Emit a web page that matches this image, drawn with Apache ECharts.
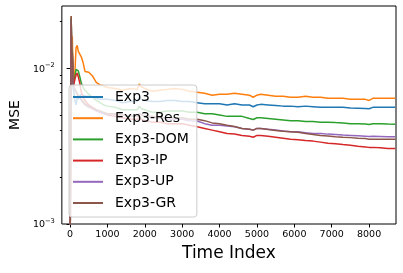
<!DOCTYPE html>
<html><head><meta charset="utf-8">
<script src="https://cdn.jsdelivr.net/npm/echarts@6/dist/echarts.min.js"></script>
<style>html,body{margin:0;padding:0;background:#fff}#c{width:403px;height:273px}</style>
</head><body><div id="c"></div>
<script>
const timeIndex = [0,15,30,45,60,80,100,130,160,190,220,260,300,350,400,450,500,600,700,800,900,1000,1200,1400,1600,1800,1850,1900,2000,2200,2400,2600,2800,3000,3200,3400,3600,3800,4000,4200,4400,4600,4800,4900,5000,5100,5300,5500,5700,5900,6100,6300,6500,6700,6900,7100,7300,7500,7700,7900,8000,8100,8300,8500,8700];
const seriesNames = ['Exp3','Exp3-Res','Exp3-DOM','Exp3-IP','Exp3-UP','Exp3-GR'];
const exp3 = [0.0004,0.0045,0.021,0.011,0.012,0.0075,0.007,0.0062,0.0058,0.0065,
0.0063,0.0066,0.0068,0.0067,0.0066,0.0066,0.0066,0.0065,0.0064,0.0063,
0.0063,0.0063,0.0062,0.0060,0.0061,0.0061,0.0065,0.0063,0.0062,0.0061,
0.0061,0.0062,0.0062,0.0061,0.0061,0.0060,0.0059,0.0059,0.0059,0.0058,
0.0059,0.0058,0.0058,0.00565,0.0058,0.00585,0.0058,0.00575,0.0057,0.0057,
0.00565,0.0057,0.00565,0.0056,0.0056,0.0056,0.0056,0.00555,0.00553,0.0055,
0.00548,0.0056,0.0056,0.0056,0.0056];
const exp3Res = [0.0004,0.0045,0.0215,0.012,0.016,0.009,0.0085,0.0095,0.0135,0.0140,
0.0128,0.0126,0.0118,0.0108,0.0095,0.0093,0.0094,0.0089,0.0081,0.0078,
0.0077,0.0075,0.0074,0.0072,0.0074,0.0073,0.0079,0.0076,0.0074,0.0071,
0.0072,0.0073,0.0074,0.0073,0.0071,0.0070,0.0069,0.0067,0.0068,0.0068,
0.0069,0.0068,0.0067,0.0065,0.0067,0.0068,0.0067,0.0066,0.0066,0.0065,
0.0065,0.0066,0.0065,0.0065,0.0064,0.0064,0.0064,0.0063,0.0063,0.0063,
0.0062,0.0064,0.0064,0.0064,0.0064];
const exp3Dom = [0.0004,0.0045,0.021,0.0115,0.013,0.0085,0.0082,0.0088,0.0098,0.0100,
0.0096,0.0088,0.0080,0.0075,0.0072,0.0070,0.0068,0.0065,0.0062,0.0060,
0.0058,0.0057,0.0056,0.0054,0.0054,0.0054,0.0057,0.0055,0.0054,0.0052,
0.0052,0.0053,0.0053,0.0053,0.0052,0.0052,0.0051,0.0051,0.0050,0.0049,
0.0049,0.0049,0.00475,0.00468,0.0048,0.0048,0.00475,0.0047,0.00465,0.0046,
0.0046,0.00455,0.00455,0.0045,0.0045,0.00447,0.00445,0.0044,0.0044,0.00437,
0.00435,0.0044,0.0044,0.00437,0.00436];
const exp3Ip = [0.0004,0.0043,0.019,0.010,0.0125,0.0082,0.0078,0.0085,0.0090,0.0093,
0.0088,0.0080,0.0070,0.0065,0.0062,0.0060,0.0058,0.0056,0.0054,0.0052,
0.0051,0.0050,0.0049,0.0048,0.0047,0.0047,0.0049,0.0047,0.0046,0.0045,
0.0045,0.0044,0.0044,0.0044,0.0043,0.0042,0.0041,0.0040,0.0039,0.0038,
0.00378,0.0037,0.00365,0.0036,0.0037,0.0037,0.00365,0.0036,0.00355,0.0035,
0.00347,0.00343,0.0034,0.00335,0.0033,0.00327,0.00323,0.0032,0.00315,0.00312,
0.0031,0.0031,0.00308,0.00305,0.00305];
const exp3Up = [0.0004,0.0045,0.0205,0.011,0.012,0.0080,0.0075,0.0072,0.0070,0.0068,
0.0066,0.0064,0.0062,0.0060,0.0058,0.0057,0.0056,0.0055,0.0053,0.0052,
0.0051,0.0051,0.0050,0.0050,0.0049,0.0049,0.0051,0.0050,0.0049,0.0048,
0.0048,0.0047,0.0047,0.0047,0.0046,0.00458,0.0044,0.0043,0.0043,0.00425,
0.0042,0.0041,0.00405,0.0040,0.0041,0.0041,0.00405,0.0040,0.00395,0.0039,
0.0039,0.00385,0.0038,0.0038,0.00377,0.00375,0.00372,0.0037,0.00368,0.00366,
0.00364,0.00365,0.00364,0.00363,0.00363];
const exp3Gr = [0.0003,0.0045,0.0216,0.011,0.0125,0.0080,0.0076,0.0074,0.0071,0.0069,
0.0067,0.0065,0.0063,0.0061,0.0059,0.0058,0.0057,0.0055,0.0054,0.0053,
0.0052,0.0051,0.0051,0.0050,0.0049,0.0049,0.0051,0.0050,0.0049,0.0049,
0.0048,0.0048,0.0048,0.0048,0.0047,0.00469,0.0046,0.00445,0.0044,0.0043,
0.00422,0.0041,0.00405,0.0040,0.0041,0.0041,0.00403,0.00398,0.00393,0.0039,
0.00387,0.0038,0.00375,0.0037,0.00367,0.00363,0.0036,0.00358,0.00355,0.00353,
0.0035,0.0035,0.0035,0.00349,0.00349];
const xTicks = [0,1000,2000,3000,4000,5000,6000,7000,8000];
const yMajorTicks = [0.001,0.01];
const yMinorTicks = [0.002,0.003,0.004,0.005,0.006,0.007,0.008,0.009,0.02];
const colors = ['#1f77b4','#ff7f0e','#2ca02c','#d62728','#9467bd','#8c564b'];
const allValues = [exp3, exp3Res, exp3Dom, exp3Ip, exp3Up, exp3Gr];

const FONT = 'DejaVu Sans';
const chart = echarts.init(document.getElementById('c'), null, {renderer:'canvas'});
chart.setOption({
  animation:false,
  color: colors,
  grid:{left:61, right:7, top:6, bottom:49, show:true, borderColor:'#000', borderWidth:1, backgroundColor:'transparent'},
  xAxis:{type:'value', min:-220, max:8720,
    axisLine:{show:false}, splitLine:{show:false},
    axisTick:{show:true, length:3.5, inside:false, customValues:xTicks, lineStyle:{color:'#000', width:1}},
    axisLabel:{customValues:xTicks, margin:6, color:'#000', fontFamily:FONT, fontSize:9.5,
      formatter:function(v){ return String(v); }},
    name:'Time Index', nameLocation:'middle', nameGap:21,
    nameTextStyle:{color:'#000', fontFamily:FONT, fontSize:17}},
  yAxis:[{type:'log', logBase:10, min:0.001, max:0.025,
    axisLine:{show:false}, splitLine:{show:false},
    axisTick:{show:true, length:3.5, customValues:yMajorTicks, lineStyle:{color:'#000', width:1}},
    axisLabel:{customValues:yMajorTicks, margin:7, color:'#000',
      formatter:function(v){ const e = Math.round(Math.log10(v)); return '{b|10}{s|\u2212' + Math.abs(e) + '}'; },
      rich:{b:{fontFamily:FONT, fontSize:9.5, color:'#000', verticalAlign:'bottom'}, s:{fontFamily:FONT, fontSize:6.7, color:'#000', verticalAlign:'top', padding:[0,0,5,0]}}},
    name:'MSE', nameLocation:'middle', nameGap:39, nameRotate:90,
    nameTextStyle:{color:'#000', fontFamily:FONT, fontSize:14}},
   {type:'log', logBase:10, min:0.001, max:0.025, position:'left',
    axisLine:{show:false}, splitLine:{show:false}, axisLabel:{show:false},
    axisTick:{show:true, length:2, customValues:yMinorTicks, lineStyle:{color:'#000', width:1}}}],
  legend:{left:69, top:85, orient:'vertical', icon:'rect', itemWidth:30, itemHeight:2,
    itemGap:5.2, padding:[4,8,6,4],
    backgroundColor:'rgba(255,255,255,0.8)', borderColor:'#cccccc', borderWidth:1, borderRadius:3,
    textStyle:{fontFamily:FONT, fontSize:14, color:'#000', lineHeight:16, padding:[0,0,0,7]},
    data: seriesNames},
  series: seriesNames.map((n,i)=>({
    name:n, type:'line', showSymbol:false, symbol:'none', clip:true, yAxisIndex:0,
    lineStyle:{width:1.5, color:colors[i]}, itemStyle:{color:colors[i]},
    data: timeIndex.map((t,k)=>[t, allValues[i][k]])
  }))
});
</script></body></html>
